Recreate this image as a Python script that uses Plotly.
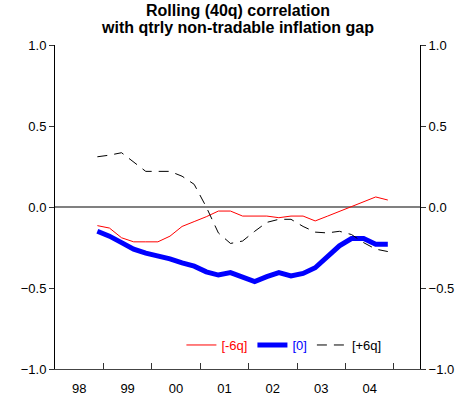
import plotly.graph_objects as go

# ---- data ----
quarters = ["1998Q4", "1999Q1", "1999Q2", "1999Q3", "1999Q4",
            "2000Q1", "2000Q2", "2000Q3", "2000Q4",
            "2001Q1", "2001Q2", "2001Q3", "2001Q4",
            "2002Q1", "2002Q2", "2002Q3", "2002Q4",
            "2003Q1", "2003Q2", "2003Q3", "2003Q4",
            "2004Q1", "2004Q2", "2004Q3", "2004Q4"]
lag_m6 = [-0.115, -0.13, -0.19, -0.215, -0.215, -0.215, -0.18, -0.12, -0.09,
          -0.06, -0.025, -0.025, -0.056, -0.056, -0.056, -0.066, -0.056, -0.056,
          -0.086, -0.057, -0.027, 0.003, 0.033, 0.062, 0.043]
lag_0 = [-0.15, -0.18, -0.22, -0.26, -0.285, -0.30, -0.32, -0.345, -0.365,
         -0.40, -0.42, -0.405, -0.435, -0.46, -0.43, -0.405, -0.425, -0.41,
         -0.375, -0.31, -0.24, -0.195, -0.195, -0.23, -0.23]
lag_p6 = [0.31, 0.32, 0.335, 0.275, 0.22, 0.22, 0.22, 0.19, 0.14,
          0.0, -0.16, -0.225, -0.21, -0.15, -0.095, -0.076, -0.076, -0.12,
          -0.155, -0.16, -0.15, -0.17, -0.22, -0.26, -0.275]
year_labels = ["98", "99", "00", "01", "02", "03", "04"]
year_starts = [1998, 1999, 2000, 2001, 2002, 2003, 2004, 2005]
y_ticks = [-1.0, -0.5, 0.0, 0.5, 1.0]
y_ticktext = ["\u22121.0", "\u22120.5", "0.0", "0.5", "1.0"]

# quarter label -> decimal year (centre of quarter)
xq = [int(q[:4]) + (int(q[-1]) - 0.5) / 4 for q in quarters]
label_pos = [ys + 0.5 for ys in year_starts[:len(year_labels)]]

FONT = "Liberation Sans, Arial, sans-serif"

fig = go.Figure()
fig.add_trace(go.Scatter(x=xq, y=lag_m6, mode="lines",
                         name="<span style='color:#ff0000'>[-6q]</span>",
                         line=dict(color="#ff0000", width=1)))
fig.add_trace(go.Scatter(x=xq, y=lag_0, mode="lines",
                         name="<span style='color:#0000ff'>[0]</span>",
                         line=dict(color="#0000ff", width=5)))
fig.add_trace(go.Scatter(x=xq, y=lag_p6, mode="lines",
                         name="<span style='color:#000000'>[+6q]</span>",
                         line=dict(color="#000000", width=1, dash="10px,7px")))
# invisible helper so the right axis is drawn
fig.add_trace(go.Scatter(x=[xq[0]], y=[lag_0[0]], yaxis="y2", mode="none",
                         showlegend=False, hoverinfo="skip"))

fig.update_layout(
    width=461, height=401,
    margin=dict(l=55, r=41, t=45, b=32, autoexpand=False),
    paper_bgcolor="white", plot_bgcolor="white",
    font=dict(family=FONT, size=13, color="#000000"),
    showlegend=True,
    legend=dict(orientation="h", x=0.908, xanchor="right", y=0.074, yanchor="middle",
                bgcolor="rgba(0,0,0,0)", font=dict(size=13, family=FONT),
                itemwidth=30, tracegroupgap=0),
    xaxis=dict(range=[1998.0, 2005.54], showgrid=False, zeroline=False, automargin=False,
               showline=True, linecolor="#444444", linewidth=1,
               tickmode="array", tickvals=label_pos, ticktext=year_labels,
               ticks="", tickfont=dict(size=13), ticklabelstandoff=7,
               minor=dict(tickmode="array", tickvals=year_starts[1:], ticks="inside",
                          ticklen=6, tickcolor="#333333", tickwidth=1, showgrid=False)),
    yaxis=dict(range=[-1, 1], showgrid=False, zeroline=True, zerolinecolor="#808080",
               zerolinewidth=1.5, showline=True, linecolor="#000000", linewidth=1,
               automargin=False,
               tickmode="array", tickvals=y_ticks, ticktext=y_ticktext,
               ticks="outside", ticklen=5, tickcolor="#333333", tickfont=dict(size=13)),
    yaxis2=dict(range=[-1, 1], overlaying="y", side="right", showgrid=False,
                zeroline=False, showline=True, linecolor="#000000", linewidth=1,
                automargin=False,
                tickmode="array", tickvals=y_ticks, ticktext=y_ticktext,
                ticks="outside", ticklen=5, tickcolor="#333333", tickfont=dict(size=13)),
    annotations=[
        dict(text="<b>Rolling (40q) correlation</b>", xref="paper", yref="paper",
             x=0.5, y=1.105, xanchor="center", yanchor="middle", showarrow=False,
             font=dict(size=16, family=FONT)),
        dict(text="<b>with qtrly non-tradable inflation gap</b>", xref="paper", yref="paper",
             x=0.5, y=1.053, xanchor="center", yanchor="middle", showarrow=False,
             font=dict(size=16, family=FONT)),
    ],
)

fig.write_html("out.html", config={"displayModeBar": False},
               post_script="document.body.style.margin='0';")
